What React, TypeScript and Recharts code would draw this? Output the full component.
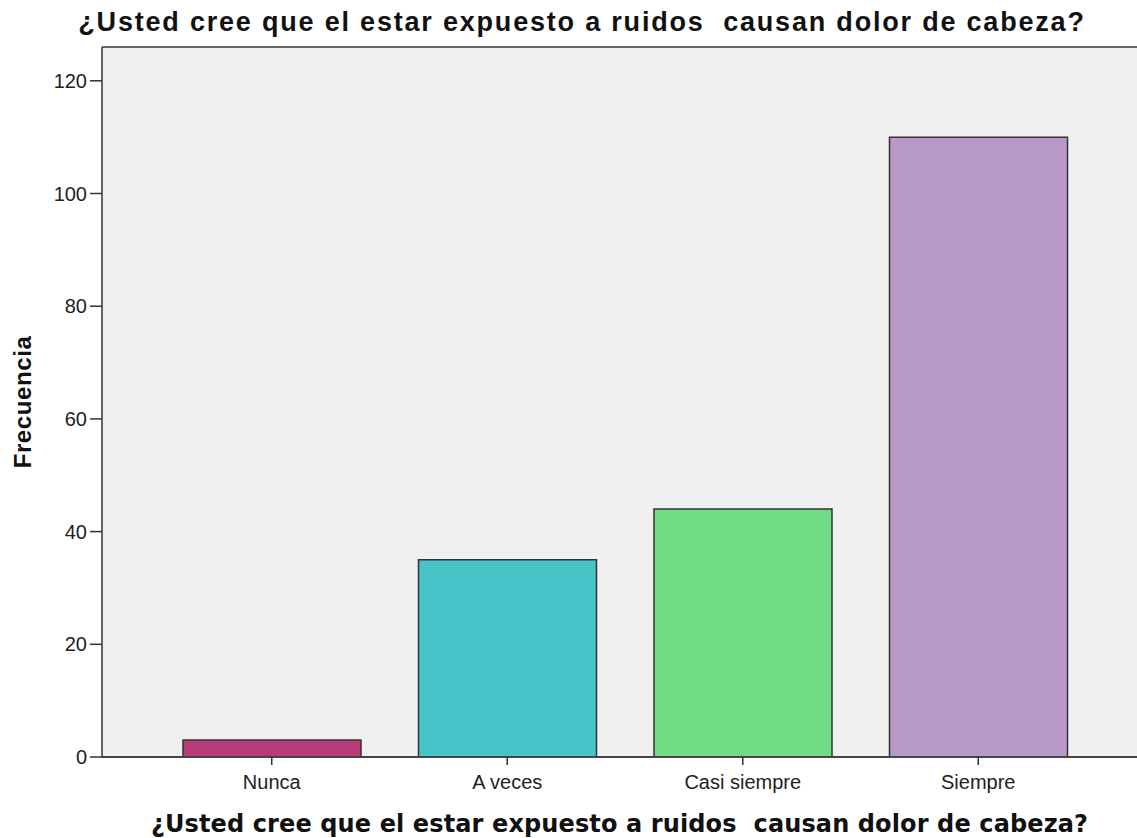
import { BarChart, Bar, XAxis, YAxis, CartesianGrid, Cell, ReferenceLine } from "recharts";

const categories = ["Nunca", "A veces", "Casi siempre", "Siempre"];
const frecuencia = [3, 35, 44, 110];
const barColors = ["#b93d7b", "#48c3c7", "#70dc85", "#b89ac9"];
const yTicks = [0, 20, 40, 60, 80, 100, 120];
const titulo = "¿Usted cree que el estar expuesto a ruidos  causan dolor de cabeza?";
// recharts' Text collapses runs of spaces, keep the double one visible
const tituloEje = titulo.replace("  ", " \u00a0");

const data = categories.map((c, i) => ({ categoria: c, frecuencia: frecuencia[i] }));

const tickFont = { fill: "#222", fontSize: 20, fontFamily: "'Liberation Sans', Arial, sans-serif" };

export default function App() {
  return (
    <div style={{ position: "absolute", left: 0, top: 0, width: 1137, height: 838, background: "#fff" }}>
      <div
        style={{
          position: "absolute",
          left: 0,
          top: 7,
          width: 1164,
          lineHeight: "30px",
          textAlign: "center",
          fontFamily: "'Liberation Sans', Arial, sans-serif",
          fontWeight: "bold",
          fontSize: 27,
          letterSpacing: 1.8,
          color: "#111",
          whiteSpace: "pre",
        }}
      >
        {titulo}
      </div>
      <BarChart
        width={1137}
        height={838}
        data={data}
        margin={{ top: 47, right: 0, bottom: 0, left: 0 }}
        barCategoryGap={29}
      >
        <CartesianGrid fill="#f0f0f0" horizontal={false} vertical={false} />
        <XAxis
          dataKey="categoria"
          height={81}
          padding={{ left: 52, right: 41 }}
          axisLine={{ stroke: "#444", strokeWidth: 2 }}
          tickLine={{ stroke: "#333", strokeWidth: 1.5 }}
          tickSize={8}
          tickMargin={10}
          tick={tickFont}
          label={{
            value: tituloEje,
            position: "insideBottom",
            offset: 6,
            style: {
              fill: "#111",
              fontSize: 24,
              fontWeight: "bold",
              letterSpacing: 0.12,
              fontFamily: "'DejaVu Sans', sans-serif",
            },
          }}
        />
        <YAxis
          width={102}
          domain={[0, 126]}
          ticks={yTicks}
          axisLine={{ stroke: "#333", strokeWidth: 1.5 }}
          tickLine={{ stroke: "#333", strokeWidth: 1.5 }}
          tickSize={12}
          tickMargin={3}
          tick={tickFont}
          label={{
            value: "Frecuencia",
            angle: -90,
            position: "center",
            dx: -29,
            style: {
              fill: "#111",
              fontSize: 24,
              fontWeight: "bold",
              letterSpacing: 0.6,
              fontFamily: "'Liberation Sans', Arial, sans-serif",
              textAnchor: "middle",
            },
          }}
        />
        <ReferenceLine y={126} stroke="#666" strokeWidth={2} />
        <Bar dataKey="frecuencia" stroke="#333" strokeWidth={1.5} isAnimationActive={false}>
          {data.map((d, i) => (
            <Cell key={d.categoria} fill={barColors[i]} />
          ))}
        </Bar>
      </BarChart>
    </div>
  );
}
